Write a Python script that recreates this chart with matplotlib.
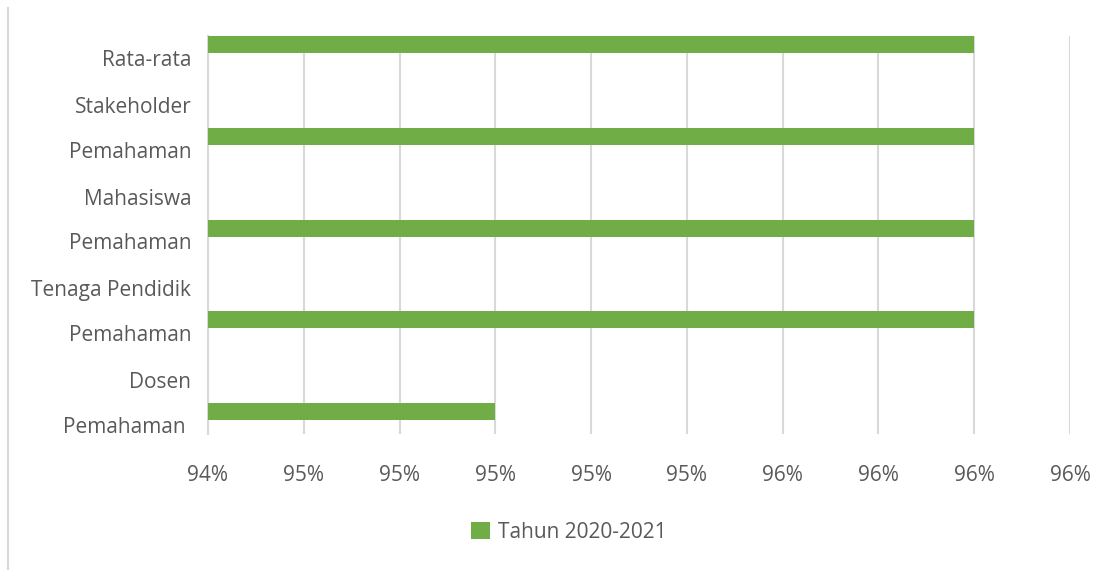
import matplotlib.pyplot as plt
from matplotlib.lines import Line2D
from matplotlib.patches import Patch

# data (bottom to top)
first_line = ["Pemahaman ", "Pemahaman", "Pemahaman", "Pemahaman", "Rata-rata"]
second_line = ["Dosen", "Tenaga Pendidik", "Mahasiswa", "Stakeholder", ""]
values = [0.950, 0.960, 0.960, 0.960, 0.960]
xticks = [0.944, 0.946, 0.948, 0.950, 0.952, 0.954, 0.956, 0.958, 0.960, 0.962]
series_name = "Tahun 2020-2021"

green = "#70AD47"
grid_c = "#D9D9D9"
text_c = "#595959"

plt.rcParams['font.family'] = ['Open Sans', 'DejaVu Sans']
fs = 15

W, H = 1111, 570
fig = plt.figure(figsize=(W / 100, H / 100), dpi=100)
# plot area in pixels: x 208..1070, y 36..434
ax = fig.add_axes([208 / W, 1 - 434 / H, (1070 - 208) / W, (434 - 36) / H])

pos = list(range(len(values)))
ax.barh(pos, [v - xticks[0] for v in values], left=xticks[0], height=0.185,
        color=green, zorder=3)

ax.set_xlim(xticks[0], xticks[-1])
ax.set_ylim(-0.245, 4.093)
ax.set_xticks(xticks)
ax.set_xticklabels([f"{round(t * 100):.0f}%" for t in xticks])
ax.grid(axis='x', color=grid_c, linewidth=1.5, zorder=0)

ax.set_yticks([p - 0.145 for p in pos])
ax.set_yticklabels(first_line)
ax.set_yticks([p + 0.343 for p in pos[:-1]], minor=True)
ax.set_yticklabels(second_line[:-1], minor=True)

ax.tick_params(axis='x', length=0, pad=22, labelsize=fs, colors=text_c)
ax.tick_params(axis='y', which='both', length=0, pad=12, labelsize=fs,
               colors=text_c)
for s in ['top', 'right', 'bottom']:
    ax.spines[s].set_visible(False)
ax.spines['left'].set_color(grid_c)
ax.spines['left'].set_linewidth(1.5)

# legend
handle = Patch(facecolor=green, edgecolor='none')
fig.legend([handle], [series_name], loc='center left',
           bbox_to_anchor=(452 / W, 1 - 532 / H), frameon=False,
           fontsize=fs, labelcolor=text_c, handlelength=0.9,
           handleheight=0.9, handletextpad=0.4)

# chart area border on left side
fig.add_artist(Line2D([8 / W, 8 / W], [0, 1 - 8 / H], color=grid_c,
                      linewidth=1.5, transform=fig.transFigure))

fig.savefig("out.png", dpi=100)
